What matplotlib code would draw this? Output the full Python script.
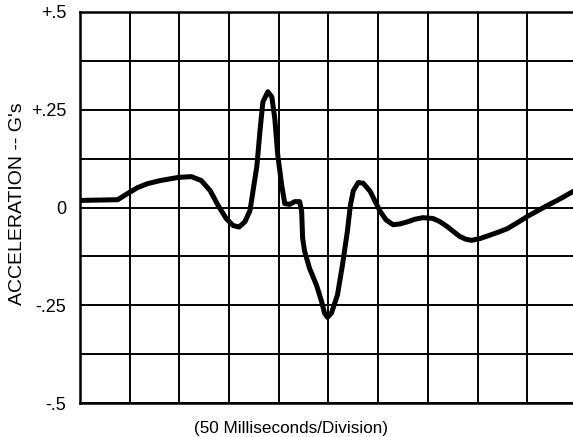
import matplotlib.pyplot as plt
import numpy as np

plt.rcParams['font.family'] = ['Liberation Sans', 'DejaVu Sans']

# time in milliseconds, acceleration in G's
time_ms = [0, 38, 48, 58, 68, 81, 99, 112, 122, 131, 139, 147, 154, 160,
           166, 171, 174, 178, 181, 184, 189, 193, 196, 199, 203, 206, 211,
           216, 221, 223, 224, 226, 231, 238, 243, 246, 249, 253, 259, 264,
           269, 272, 275, 280, 285, 292, 297, 302, 308, 315, 322, 329, 337,
           345, 355, 362, 369, 376, 382, 388, 394, 403, 412, 421, 430, 440,
           450, 460, 470, 483, 496]
accel_g = [0.018, 0.020, 0.036, 0.051, 0.061, 0.069, 0.077, 0.079, 0.069,
           0.043, 0.005, -0.028, -0.046, -0.050, -0.036, -0.008, 0.041,
           0.107, 0.194, 0.270, 0.296, 0.283, 0.227, 0.133, 0.056, 0.010,
           0.008, 0.015, 0.015, -0.010, -0.079, -0.112, -0.156, -0.199,
           -0.240, -0.270, -0.281, -0.270, -0.224, -0.148, -0.061, 0.005,
           0.043, 0.064, 0.062, 0.041, 0.015, -0.010, -0.032, -0.044,
           -0.042, -0.037, -0.030, -0.026, -0.028, -0.036, -0.048, -0.062,
           -0.074, -0.081, -0.084, -0.079, -0.071, -0.063, -0.054, -0.039,
           -0.023, -0.009, 0.005, 0.022, 0.041]

ytick_vals = [0.5, 0.375, 0.25, 0.125, 0, -0.125, -0.25, -0.375, -0.5]
ytick_text = ['+.5', '', '+.25', '', '0', '', '-.25', '', '-.5']

fig = plt.figure(figsize=(5.73, 4.37), dpi=100)
ax = fig.add_axes([80 / 573, 1 - 403 / 437, 1 - 80 / 573, (403 - 12) / 437])

ax.plot(time_ms, accel_g, color='black', lw=3.6, solid_capstyle='round',
        solid_joinstyle='round', zorder=3)

ax.set_xlim(0, 496)
ax.set_ylim(-0.5, 0.5)
ax.set_xticks(np.arange(0, 500, 50))
ax.set_xticklabels([])
ax.set_yticks(ytick_vals)
ax.set_yticklabels(ytick_text, fontsize=13)
ax.tick_params(length=0, pad=10)
ax.grid(True, color='black', lw=1.4)

for side in ['left', 'top', 'bottom']:
    ax.spines[side].set_linewidth(1.8)
ax.spines['right'].set_visible(False)

fig.text(291 / 573, 1 - 428 / 437, '(50 Milliseconds/Division)',
         fontsize=12.3, ha='center', va='center')
fig.text(18 / 573, 1 - 204 / 437, 'ACCELERATION -- G\'s', fontsize=14,
         rotation=90, ha='center', va='center')

plt.savefig('out.png', dpi=100)
